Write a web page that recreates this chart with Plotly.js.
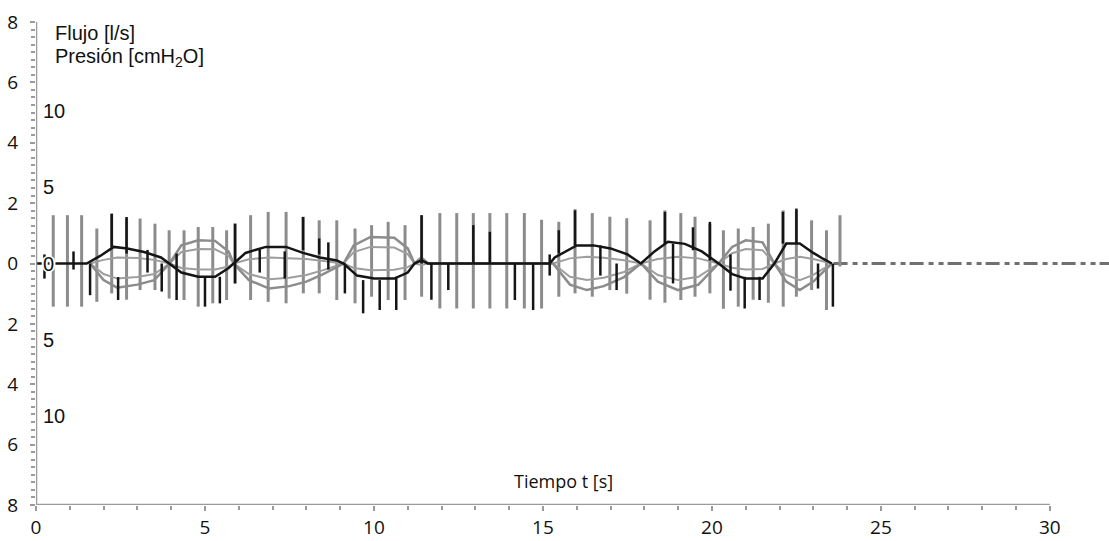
<!DOCTYPE html>
<html>
<head>
<meta charset="utf-8">
<script src="https://cdn.plot.ly/plotly-3.0.1.min.js"></script>
<style>html,body{margin:0;padding:0;background:#fff}</style>
</head>
<body>
<div id="chart" style="width:1109px;height:541px"></div>
<script>
// ---- Data ----
// Pressure (gray) oscillation spikes: time [s], top and bottom [l/s scale]
const grayT   = [0.51,0.93,1.35,1.80,2.24,2.68,3.08,3.52,3.94,4.38,4.80,5.23,5.64,5.89,6.35,6.87,7.40,7.91,8.38,8.90,9.44,9.93,10.42,10.92,11.41,11.95,12.45,12.94,13.43,13.93,14.45,14.96,15.47,15.95,16.46,16.98,17.48,18.17,18.61,19.08,19.50,19.94,20.34,20.78,21.22,21.67,22.11,22.50,22.95,23.39,23.79];
const grayTop = [1.60,1.60,1.60,1.16,1.65,1.50,1.49,1.32,1.10,1.10,1.21,1.21,1.10,1.32,1.60,1.71,1.71,1.55,1.43,1.43,1.16,1.27,1.38,1.27,1.60,1.67,1.67,1.67,1.67,1.67,1.67,1.45,1.38,1.80,1.67,1.55,1.50,1.43,1.76,1.67,1.55,1.32,1.10,1.16,1.21,1.32,1.76,1.76,1.43,1.10,1.60];
const grayBot = [-1.43,-1.43,-1.43,-1.27,-0.99,-1.20,-0.88,-0.88,-1.16,-1.21,-1.43,-1.32,-1.21,-0.66,-1.21,-1.27,-1.32,-0.99,-0.99,-1.21,-1.32,-1.10,-1.21,-1.21,-1.10,-1.49,-1.49,-1.49,-1.49,-1.49,-1.49,-1.49,-1.10,-0.99,-1.10,-0.88,-1.00,-1.20,-1.30,-1.21,-1.10,-0.99,-1.50,-1.43,-1.20,-1.30,-1.43,-1.10,-0.88,-1.54,-0.10];

// Flow (black) oscillation spikes
const blackT   = [0.25,1.11,1.60,2.24,2.43,2.68,3.30,3.72,4.16,5.00,5.44,5.89,6.62,7.36,7.90,8.38,8.65,9.14,9.68,10.17,10.66,11.41,11.70,12.20,12.94,13.43,14.17,14.71,15.20,15.47,15.95,16.70,17.18,18.61,18.85,19.44,19.94,20.55,20.97,21.41,22.10,22.50,23.14,23.58];
const blackTop = [0.30,0.40,0.00,1.65,-0.45,1.54,0.45,0.00,0.33,-0.44,-0.44,1.32,0.50,0.40,1.54,0.83,0.70,0.00,-0.55,-0.55,-0.44,1.60,0.00,0.00,1.27,1.05,0.00,0.00,0.30,1.10,1.76,0.60,0.00,1.71,0.66,1.20,1.38,0.30,-0.44,-0.44,1.71,1.82,0.00,0.00];
const blackBot = [-0.50,-0.20,-1.05,0.55,-1.21,0.33,-0.30,-0.93,-1.21,-1.43,-1.32,-0.66,-0.30,-0.50,0.44,0.30,-0.20,-0.99,-1.65,-1.54,-1.54,0.00,-1.20,-0.88,0.00,0.00,-1.21,-1.54,-0.40,0.33,0.60,-0.40,-0.88,0.66,-0.66,0.44,0.10,-0.90,-1.49,-1.21,0.66,0.66,-0.83,-1.43];

// Slow flow envelope (black)
const flowT = [0,1.5,1.9,2.3,2.7,3.2,3.7,3.95,4.3,4.8,5.3,5.7,5.85,6.2,6.8,7.4,7.9,8.4,8.9,9.1,9.5,10.0,10.6,11.0,11.2,11.4,11.6,15.2,15.35,15.6,16.0,16.5,17.0,17.5,17.9,18.3,18.7,19.2,19.7,20.2,20.6,21.0,21.5,21.85,22.2,22.6,23.0,23.3,23.55];
const flowV = [0,0,0.25,0.55,0.50,0.38,0.20,0,-0.30,-0.44,-0.44,-0.15,0,0.35,0.55,0.55,0.35,0.20,0.10,0,-0.40,-0.50,-0.50,-0.30,0,0.10,0,0,0.20,0.35,0.60,0.60,0.50,0.30,0,0.40,0.72,0.65,0.40,0,-0.35,-0.50,-0.50,0,0.66,0.66,0.35,0.15,0];

// Slow pressure envelope (gray): outer edge and the two inner edges of the lenses
const presT   = [1.6,2.0,2.4,3.0,3.5,3.95,4.3,4.8,5.3,5.7,5.85,6.3,6.9,7.5,8.0,8.5,9.1,9.4,9.9,10.6,11.0,11.2,11.4,11.6,15.3,15.8,16.3,16.8,17.4,17.9,18.4,19.0,19.6,20.2,20.6,21.0,21.5,21.85,22.2,22.6,23.0,23.55];
const presV   = [0,-0.55,-0.80,-0.70,-0.55,0,0.60,0.77,0.75,0.40,0,-0.55,-0.83,-0.75,-0.60,-0.35,0,0.60,0.88,0.85,0.50,0,0.20,0,0,-0.70,-0.88,-0.75,-0.45,0,-0.60,-0.88,-0.70,0,0.55,0.77,0.70,0,-0.60,-0.88,-0.60,0];
const presInA = [0,-0.35,-0.50,-0.45,-0.35,0,0.38,0.48,0.47,0.25,0,-0.35,-0.52,-0.47,-0.38,-0.22,0,0.38,0.55,0.53,0.31,0,0.12,0,0,-0.44,-0.55,-0.47,-0.28,0,-0.38,-0.55,-0.44,0,0.34,0.48,0.44,0,-0.38,-0.55,-0.38,0];
const presInB = [0,0.12,0.20,0.18,0.12,0,-0.15,-0.20,-0.20,-0.10,0,0.14,0.20,0.18,0.15,0.08,0,-0.15,-0.22,-0.21,-0.12,0,-0.05,0,0,0.17,0.22,0.19,0.11,0,0.15,0.22,0.17,0,-0.14,-0.20,-0.18,0,0.15,0.22,0.15,0];

// Baseline continuation after the recording
const tailT = [23.6, 31.75];
const tailV = [0, 0];

// Axis labels
const yTickVals = [-8,-6,-4,-2,0,2,4,6,8];
const yTickText = ["8","6","4","2","0","2","4","6","8"];
const xTickVals = [0,5,10,15,20,25,30];
const xMinorVals = [1,2,3,4,6,7,8,9,11,12,13,14,16,17,18,19,21,22,23,24,26,27,28,29];
const presLabelVals = [10,5,0,-5,-10];
const presLabelText = ["10","5","0","5","10"];

// ---- Build segment traces ----
function segs(t, a, b) {
  const x = [], y = [];
  for (let i = 0; i < t.length; i++) { x.push(t[i], t[i], null); y.push(a[i], b[i], null); }
  return {x, y};
}
const gs = segs(grayT, grayTop, grayBot);
const bs = segs(blackT, blackTop, blackBot);

const GRAY = '#8c8c8c', LGRAY = '#9e9e9e', BLACK = '#151515', AX = '#9a9a9a';

const traces = [
  {x: tailT, y: tailV, mode: 'lines', line: {color: '#707070', width: 3, dash: '14px,5px,5px,5px,5px,4px'}, hoverinfo: 'skip'},
  {x: gs.x, y: gs.y, mode: 'lines', line: {color: GRAY, width: 3}, connectgaps: false, hoverinfo: 'skip'},
  {x: presT, y: presInA, mode: 'lines', line: {color: LGRAY, width: 2}, hoverinfo: 'skip'},
  {x: presT, y: presInB, mode: 'lines', line: {color: LGRAY, width: 2}, hoverinfo: 'skip'},
  {x: presT, y: presV, mode: 'lines', line: {color: GRAY, width: 2.5}, hoverinfo: 'skip'},
  {x: bs.x, y: bs.y, mode: 'lines', line: {color: BLACK, width: 2.5}, connectgaps: false, hoverinfo: 'skip'},
  {x: flowT, y: flowV, mode: 'lines', line: {color: BLACK, width: 2.5}, hoverinfo: 'skip'},
  {x: [0], y: [0], yaxis: 'y2', mode: 'markers', marker: {opacity: 0}, hoverinfo: 'skip'}
];

const tickFont = {family: '"Open Sans", "Noto Sans", sans-serif', size: 19, color: '#111'};
const lblFont = {family: '"Liberation Sans", Arial, sans-serif', size: 20, color: '#111'};

const annotations = presLabelVals.map((v, i) => ({
  x: 0, xref: 'x', y: v, yref: 'y2', text: presLabelText[i], showarrow: false,
  xanchor: 'left', yanchor: 'middle', xshift: 5,
  font: Object.assign({}, lblFont, v === 0 ? {shadow: '1px 1px 0 #fff, -1px -1px 0 #fff, 1px -1px 0 #fff, -1px 1px 0 #fff, 2px 0 0 #fff, -2px 0 0 #fff'} : {})
}));
annotations.push(
  {x: 0.5, xref: 'x', y: 7.65, yref: 'y', text: 'Flujo [l/s]', showarrow: false, xanchor: 'left', yanchor: 'middle', font: lblFont},
  {x: 0.5, xref: 'x', y: 6.82, yref: 'y', text: 'Presión [cmH<sub>2</sub>O]', showarrow: false, xanchor: 'left', yanchor: 'middle', font: lblFont},
  {x: 15.6, xref: 'x', y: -7.2, yref: 'y', text: 'Tiempo t [s]', showarrow: false, xanchor: 'center', yanchor: 'middle', font: {family: '"Open Sans", "Noto Sans", sans-serif', size: 18, color: '#111'}}
);

const layout = {
  width: 1109, height: 541,
  margin: {l: 36, r: 0, t: 22, b: 36, pad: 0},
  paper_bgcolor: '#fff', plot_bgcolor: '#fff',
  showlegend: false,
  xaxis: {
    range: [0, 31.75], showgrid: false, zeroline: false, showline: false,
    tickmode: 'array', tickvals: xTickVals, ticktext: xTickVals.map(String),
    ticks: 'outside', ticklen: 5, tickwidth: 2, tickcolor: AX,
    tickfont: tickFont,
    minor: {tickmode: 'array', tickvals: xMinorVals, ticks: 'outside', ticklen: 4, tickwidth: 2, tickcolor: AX, showgrid: false}
  },
  yaxis: {
    range: [-8, 8], showgrid: false, zeroline: false, showline: false,
    tickmode: 'array', tickvals: yTickVals, ticktext: yTickText,
    ticks: 'outside', ticklen: 5, tickwidth: 2, tickcolor: AX,
    tickfont: tickFont, ticklabelstandoff: 8,
    minor: {dtick: 0.25, tick0: 0, ticks: 'outside', ticklen: 4, tickwidth: 2, tickcolor: AX, showgrid: false}
  },
  yaxis2: {
    range: [-15.8, 15.8], overlaying: 'y', anchor: 'x', side: 'left',
    showgrid: false, zeroline: false, showline: false, showticklabels: false, ticks: ''
  },
  shapes: [
    {type: 'line', xref: 'x', yref: 'y', x0: 0, x1: 30, y0: -8, y1: -8, line: {color: AX, width: 2.5}},
    {type: 'line', xref: 'x', yref: 'y', x0: 0, x1: 0, y0: -8, y1: 8, line: {color: AX, width: 2.5}}
  ],
  annotations: annotations
};

Plotly.newPlot('chart', traces, layout, {staticPlot: true, displayModeBar: false});
</script>
</body>
</html>
